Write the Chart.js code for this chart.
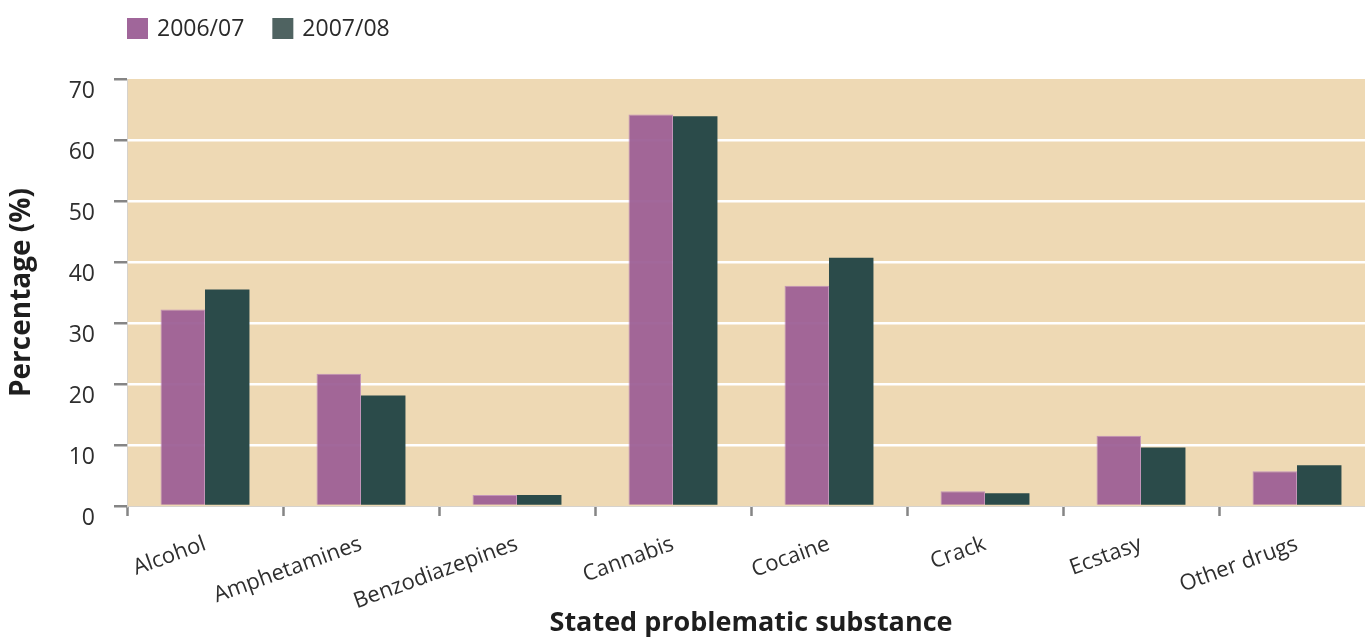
<!DOCTYPE html>
<html>
<head>
<meta charset="utf-8">
<script src="https://cdn.jsdelivr.net/npm/chart.js@4/dist/chart.umd.min.js"></script>
<style>
  html, body { margin: 0; padding: 0; background: #ffffff; overflow: hidden; }
  #wrap { width: 1375px; height: 637px; }
</style>
</head>
<body>
<div id="wrap"><canvas id="c" width="1375" height="637"></canvas></div>
<script>
// Stated problematic substance, share of clients (%)
const substances = ['Alcohol', 'Amphetamines', 'Benzodiazepines', 'Cannabis', 'Cocaine', 'Crack', 'Ecstasy', 'Other drugs'];
const year0607 = [32.2, 21.7, 1.8, 64.2, 36.1, 2.4, 11.5, 5.7];
const year0708 = [35.5, 18.1, 1.8, 63.9, 40.7, 2.1, 9.6, 6.7];
const seriesNames = ['2006/07', '2007/08'];
const yTicks = [0, 10, 20, 30, 40, 50, 60, 70];

const FONT = "'Open Sans', 'Liberation Sans', sans-serif";
const PURPLE = 'rgba(157, 96, 150, 0.95)';
const GREEN = '#2b4b4a';
const PANEL = '#eed9b4';
const TICK_GREY = '#858585';

// Beige plot panel behind the grid and bars
const panelPlugin = {
  id: 'panel',
  beforeDraw(chart) {
    const a = chart.chartArea;
    const ctx = chart.ctx;
    ctx.save();
    ctx.fillStyle = PANEL;
    ctx.fillRect(a.left, a.top, a.right - a.left, a.bottom - a.top);
    ctx.restore();
  }
};

// Legend row above the panel, starting at the panel's left edge
const legendPlugin = {
  id: 'topLegend',
  afterDraw(chart) {
    const ctx = chart.ctx;
    const box = 21, gap = 9, spacing = 28;
    let x = chart.chartArea.left;
    const top = 18;
    ctx.save();
    ctx.font = "23px " + FONT;
    ctx.textBaseline = 'middle';
    ctx.textAlign = 'left';
    chart.data.datasets.forEach(ds => {
      ctx.fillStyle = ds.legendColor;
      ctx.fillRect(x, top, box, box);
      ctx.fillStyle = '#2a2a2a';
      ctx.fillText(ds.label, x + box + gap, top + box / 2 + 1);
      x += box + gap + ctx.measureText(ds.label).width + spacing;
    });
    ctx.restore();
  }
};

new Chart(document.getElementById('c'), {
  type: 'bar',
  data: {
    labels: substances,
    datasets: [
      { label: seriesNames[0], data: year0607, backgroundColor: PURPLE, legendColor: '#a0669a',
        borderColor: 'rgba(190, 140, 185, 0.9)', borderWidth: 1, borderSkipped: 'bottom' },
      { label: seriesNames[1], data: year0708, backgroundColor: GREEN, legendColor: '#4f6361', borderWidth: 0 }
    ]
  },
  options: {
    responsive: false,
    animation: false,
    devicePixelRatio: 1,
    layout: { padding: { top: 79, right: 0, bottom: 0, left: 0 } },
    datasets: { bar: { categoryPercentage: 0.57, barPercentage: 1.0 } },
    plugins: {
      legend: { display: false },
      tooltip: { enabled: false }
    },
    scales: {
      x: {
        offset: true,
        grid: {
          offset: true,
          drawOnChartArea: false,
          drawTicks: true,
          tickLength: 10,
          tickWidth: 2.5,
          tickColor: TICK_GREY
        },
        border: { display: true, color: '#d6d2cc', width: 1 },
        ticks: {
          color: '#2e2e2e',
          font: { family: FONT, size: 22 },
          minRotation: 20,
          maxRotation: 20,
          padding: 15,
          autoSkip: false
        },
        title: {
          display: true,
          text: 'Stated problematic substance',
          color: '#1e1e1e',
          font: { family: FONT, size: 27, weight: 'bold', lineHeight: 1.0 },
          padding: { top: 0, bottom: 0 }
        },
        afterFit(scale) { scale.height = 131; }
      },
      y: {
        min: 0,
        max: 70,
        afterBuildTicks(scale) { scale.ticks = yTicks.map(v => ({ value: v })); },
        grid: {
          color: ctx => (ctx.tick && (ctx.tick.value === 0 || ctx.tick.value === 70)) ? 'rgba(0,0,0,0)' : '#ffffff',
          lineWidth: 2.5,
          drawTicks: true,
          tickLength: 13,
          tickWidth: 2.5,
          tickColor: TICK_GREY
        },
        border: { display: true, color: '#d6d2cc', width: 1 },
        ticks: {
          color: '#2e2e2e',
          font: { family: FONT, size: 23 },
          padding: 19,
          labelOffset: 12
        },
        title: {
          display: true,
          text: 'Percentage (%)',
          color: '#1e1e1e',
          font: { family: FONT, size: 28, weight: 'bold', lineHeight: 1.0 },
          padding: { top: 8, bottom: 0 }
        },
        afterFit(scale) { scale.width = 127; }
      }
    }
  },
  plugins: [panelPlugin, legendPlugin]
});
</script>
</body>
</html>
